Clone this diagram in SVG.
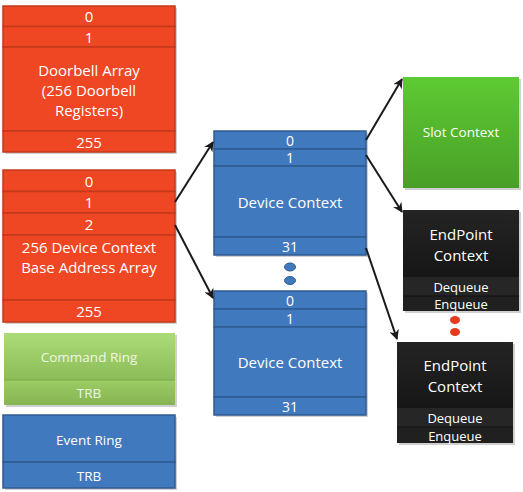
<svg xmlns="http://www.w3.org/2000/svg" width="523" height="492" viewBox="0 0 523 492">
<defs>
<linearGradient id="gCmd" x1="0" y1="0" x2="0" y2="1"><stop offset="0" stop-color="#acdc78"/><stop offset="1" stop-color="#8cbc58"/></linearGradient>
<linearGradient id="gCmd2" x1="0" y1="0" x2="0" y2="1"><stop offset="0" stop-color="#9ccc64"/><stop offset="1" stop-color="#86b452"/></linearGradient>
<linearGradient id="gSlot" x1="0" y1="0" x2="0" y2="1"><stop offset="0" stop-color="#5dcb33"/><stop offset="1" stop-color="#499f26"/></linearGradient>
<linearGradient id="gEp" x1="0" y1="0" x2="0" y2="1"><stop offset="0" stop-color="#242424"/><stop offset="1" stop-color="#161616"/></linearGradient>
<marker id="arr" viewBox="0 0 10 10" refX="9" refY="5" markerWidth="5" markerHeight="5" orient="auto" markerUnits="strokeWidth">
<path d="M0,0 L10,5 L0,10 L3,5 Z" fill="#1a1a1a"/>
</marker>
</defs>
<style>
.red{fill:#ef4623;stroke:#c13a1c;stroke-width:1.5}
.blue{fill:#4179be;stroke:#2f5b90;stroke-width:1.5}
.sh{fill:#d0d0d0}
.t{font-family:"Open Sans","Liberation Sans",sans-serif;font-size:15px;fill:#ffffff;text-anchor:middle;dominant-baseline:central}
.s{font-size:13.5px}
.n{font-size:14px}
.q{font-size:13px}
.tc{fill:#eef6e4}
.con{stroke:#1a1a1a;stroke-width:2;fill:none;marker-end:url(#arr)}
</style>

<g id="doorbell-array">
<rect class="sh" x="5" y="8" width="172" height="146"/>
<rect class="red" x="3" y="6" width="172" height="20.5"/>
<rect class="red" x="3" y="26.5" width="172" height="20.5"/>
<rect class="red" x="3" y="47" width="172" height="84"/>
<rect class="red" x="3" y="131" width="172" height="21"/>
<text class="t" x="89" y="16">0</text>
<text class="t" x="89" y="37">1</text>
<text class="t" x="89" y="70">Doorbell Array</text>
<text class="t" x="89" y="90">(256 Doorbell</text>
<text class="t" x="89" y="110">Registers)</text>
<text class="t" x="89" y="142">255</text>
</g>

<g id="dcbaa">
<rect class="sh" x="5" y="172" width="172" height="152"/>
<rect class="red" x="3" y="170" width="172" height="21.5"/>
<rect class="red" x="3" y="191.5" width="172" height="21.5"/>
<rect class="red" x="3" y="213" width="172" height="22"/>
<rect class="red" x="3" y="235" width="172" height="65"/>
<rect class="red" x="3" y="300" width="172" height="22"/>
<text class="t" x="89" y="181">0</text>
<text class="t" x="89" y="202">1</text>
<text class="t" x="89" y="224">2</text>
<text class="t" x="89" y="247">256 Device Context</text>
<text class="t" x="89" y="267">Base Address Array</text>
<text class="t" x="89" y="311">255</text>
</g>

<g id="command-ring">
<rect class="sh" x="6" y="335" width="171" height="72"/>
<rect x="4" y="333" width="171" height="47" fill="url(#gCmd)"/>
<rect x="4" y="380" width="171" height="25" fill="url(#gCmd2)"/>
<line x1="4" y1="380" x2="175" y2="380" stroke="#7aa84a" stroke-width="1"/>
<text class="t s tc" x="89" y="357">Command Ring</text>
<text class="t s tc" x="89" y="393">TRB</text>
</g>

<g id="event-ring">
<rect class="sh" x="5" y="417" width="172" height="73"/>
<rect class="blue" x="3" y="415" width="172" height="47"/>
<rect class="blue" x="3" y="462" width="172" height="26"/>
<text class="t s" x="89" y="440">Event Ring</text>
<text class="t s" x="89" y="476">TRB</text>
</g>

<g id="device-context-1">
<rect class="sh" x="216" y="133" width="152" height="124"/>
<rect class="blue" x="214" y="131" width="152" height="18"/>
<rect class="blue" x="214" y="149" width="152" height="17"/>
<rect class="blue" x="214" y="166" width="152" height="71"/>
<rect class="blue" x="214" y="237" width="152" height="18"/>
<text class="t n" x="290" y="140">0</text>
<text class="t n" x="290" y="157.5">1</text>
<text class="t" x="290" y="202">Device Context</text>
<text class="t n" x="290" y="246">31</text>
</g>

<g id="device-context-dots">
<ellipse cx="290" cy="267" rx="5.5" ry="4" fill="#4179be" stroke="#2f5b90"/>
<ellipse cx="290" cy="280.5" rx="5.5" ry="4" fill="#4179be" stroke="#2f5b90"/>
</g>

<g id="device-context-2">
<rect class="sh" x="216" y="293" width="152" height="124"/>
<rect class="blue" x="214" y="291" width="152" height="18"/>
<rect class="blue" x="214" y="309" width="152" height="18"/>
<rect class="blue" x="214" y="327" width="152" height="70"/>
<rect class="blue" x="214" y="397" width="152" height="18"/>
<text class="t n" x="290" y="300">0</text>
<text class="t n" x="290" y="318">1</text>
<text class="t" x="290" y="362">Device Context</text>
<text class="t n" x="290" y="406">31</text>
</g>

<g id="slot-context">
<rect class="sh" x="405" y="79" width="116" height="111"/>
<rect x="403" y="77" width="116" height="111" fill="url(#gSlot)"/>
<text class="t s" x="461" y="132">Slot Context</text>
</g>

<g id="endpoint-context-1">
<rect class="sh" x="405" y="212" width="116" height="101"/>
<rect x="403" y="210" width="116" height="67" fill="url(#gEp)"/>
<rect x="403" y="277" width="116" height="19" fill="#262626"/>
<rect x="403" y="296" width="116" height="15" fill="#202020"/>
<line x1="403" y1="296" x2="519" y2="296" stroke="#111" stroke-width="1"/>
<text class="t" x="461" y="234">EndPoint</text>
<text class="t" x="461" y="255">Context</text>
<text class="t q" x="461" y="286.5">Dequeue</text>
<text class="t q" x="461" y="303.5">Enqueue</text>
</g>

<g id="endpoint-dots">
<ellipse cx="455" cy="320" rx="5" ry="4" fill="#e53a1e"/>
<ellipse cx="455" cy="332" rx="5" ry="4" fill="#e53a1e"/>
</g>

<g id="endpoint-context-2">
<rect class="sh" x="399" y="344" width="116" height="101"/>
<rect x="397" y="342" width="116" height="66" fill="url(#gEp)"/>
<rect x="397" y="408" width="116" height="19" fill="#262626"/>
<rect x="397" y="427" width="116" height="16" fill="#202020"/>
<line x1="397" y1="427" x2="513" y2="427" stroke="#111" stroke-width="1"/>
<text class="t" x="455" y="365">EndPoint</text>
<text class="t" x="455" y="386">Context</text>
<text class="t q" x="455" y="418">Dequeue</text>
<text class="t q" x="455" y="435.5">Enqueue</text>
</g>

<g id="connectors">
<line class="con" x1="175" y1="202" x2="213" y2="142"/>
<line class="con" x1="175" y1="225" x2="213" y2="298"/>
<line class="con" x1="366" y1="140" x2="402" y2="79"/>
<line class="con" x1="366" y1="155" x2="402" y2="212"/>
<line class="con" x1="366" y1="248" x2="397" y2="339"/>
</g>
</svg>
